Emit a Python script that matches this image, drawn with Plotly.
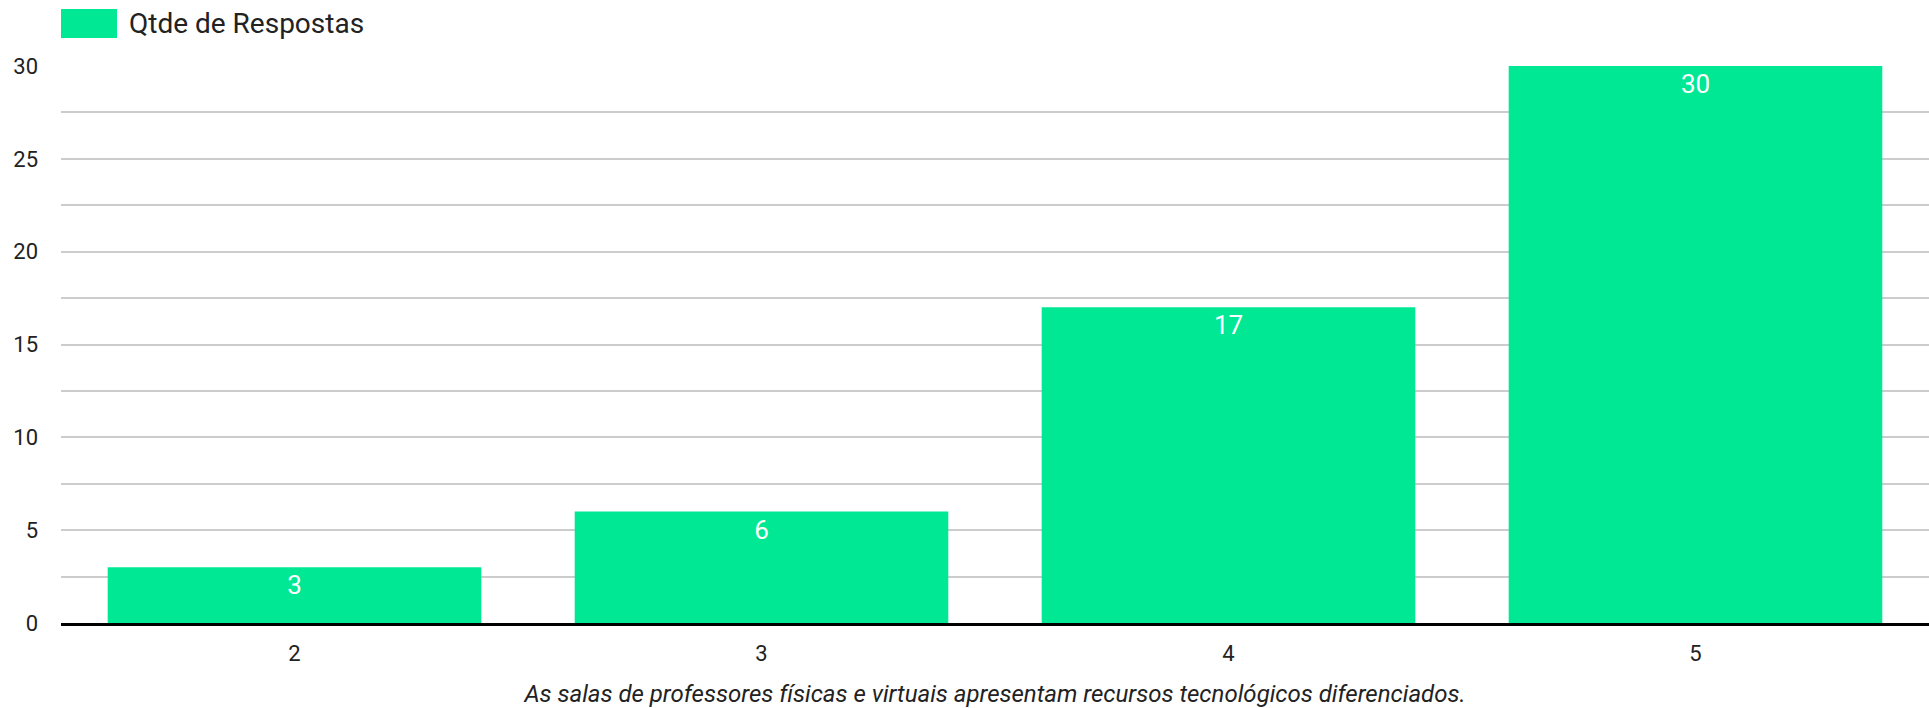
import plotly.graph_objects as go

categories = ["2", "3", "4", "5"]
values = [3, 6, 17, 30]
series_name = "Qtde de Respostas"
x_title = "As salas de professores físicas e virtuais apresentam recursos tecnológicos diferenciados."
y_ticks = [0, 5, 10, 15, 20, 25, 30]

GREEN = "#00e893"
FONT = "Roboto"
TXT = "#222222"

fig = go.Figure()
fig.add_trace(go.Bar(
    x=categories, y=values, name=series_name,
    marker=dict(color=GREEN, line=dict(width=0)),
    text=[str(v) for v in values],
    textposition="inside", insidetextanchor="end",
    textfont=dict(family=FONT, size=26, color="white"),
    showlegend=False,
))

W, H = 1929, 708
L, R, T, B = 61, 0, 66, 85
pw, ph = W - L - R, H - T - B

def px_x(x):
    return (x - L) / pw

def px_y(y):
    return (H - B - y) / ph

# legend swatch + label
fig.add_shape(type="rect", xref="paper", yref="paper",
              x0=px_x(61), x1=px_x(117), y0=px_y(38), y1=px_y(9),
              fillcolor=GREEN, line=dict(width=0))
fig.add_annotation(xref="paper", yref="paper", x=px_x(127), y=px_y(23.5),
                   xanchor="left", yanchor="middle", showarrow=False,
                   text=series_name, font=dict(family=FONT, size=28, color=TXT))

fig.update_layout(
    width=W, height=H,
    margin=dict(l=L, r=R, t=T, b=B, pad=0),
    plot_bgcolor="white", paper_bgcolor="white",
    font=dict(family=FONT, color=TXT),
    bargap=0.2,
)
fig.update_xaxes(
    showgrid=False, showline=True, linecolor="black", linewidth=3,
    tickfont=dict(family=FONT, size=22, color=TXT),
    ticks="", ticklabelstandoff=9,
    title=dict(text=x_title, font=dict(family=FONT, size=24, color=TXT, style="italic"), standoff=20),
)
fig.update_yaxes(
    range=[0, 30], tickvals=y_ticks, showline=False, zeroline=False,
    showgrid=True, gridcolor="#cccccc", gridwidth=2,
    minor=dict(dtick=2.5, tick0=0, showgrid=True, gridcolor="#cccccc", gridwidth=2),
    tickfont=dict(family=FONT, size=22, color=TXT),
    ticks="", ticklabelstandoff=22,
)
fig.update_traces(cliponaxis=False)

fig.write_html("out.html", config={"displayModeBar": False})
with open("out.html", "r", encoding="utf-8") as f:
    html = f.read()
html = html.replace("<body>", '<body style="margin:0;overflow:hidden">', 1)
with open("out.html", "w", encoding="utf-8") as f:
    f.write(html)
